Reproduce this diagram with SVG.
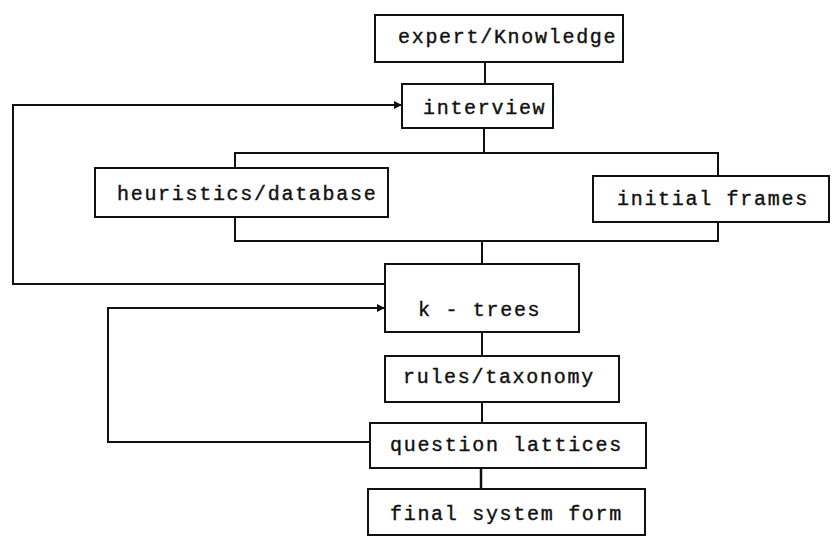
<svg xmlns="http://www.w3.org/2000/svg" width="833" height="540" viewBox="0 0 833 540">
  <style>
    .box { fill: #fff; stroke: #111; stroke-width: 2; }
    .lbl { font-family: "Liberation Mono", "DejaVu Sans Mono", monospace; font-size: 20px; letter-spacing: 1.7px; fill: #111; stroke: #111; stroke-width: 0.4px; }
    .wire { fill: none; stroke: #111; stroke-width: 2; }
  </style>
  <defs>
    <marker id="head" viewBox="0 0 10 10" refX="10" refY="5" markerWidth="8" markerHeight="8" orient="auto" markerUnits="userSpaceOnUse">
      <path d="M0,0 L10,5 L0,10 z" fill="#111"/>
    </marker>
  </defs>
  <rect width="833" height="540" fill="#fff"/>

  <g id="connectors">
    <!-- vertical trunk -->
    <line class="wire" x1="485" y1="62" x2="485" y2="84"/>
    <line class="wire" x1="484" y1="128" x2="484" y2="153"/>
    <!-- bracket joining the two parallel activities -->
    <path class="wire" d="M235,168 V153 H718 V176"/>
    <path class="wire" d="M235,217 V241 H718 V222"/>
    <line class="wire" x1="482" y1="241" x2="482" y2="264"/>
    <line class="wire" x1="482" y1="332" x2="482" y2="356"/>
    <line class="wire" x1="482" y1="402" x2="482" y2="423"/>
    <line class="wire" x1="481" y1="468" x2="481" y2="489" style="stroke-width:2.5"/>
    <!-- feedback loops -->
    <path class="wire" d="M386,284 H13 V105 H402" marker-end="url(#head)"/>
    <path class="wire" d="M370,442 H108 V308 H385" marker-end="url(#head)"/>
  </g>

  <g id="expert">
    <rect class="box" x="375" y="15" width="248" height="47"/>
    <text class="lbl" x="398" y="43">expert/Knowledge</text>
  </g>
  <g id="interview">
    <rect class="box" x="402" y="84" width="151" height="44"/>
    <text class="lbl" x="423" y="114">interview</text>
  </g>
  <g id="heuristics">
    <rect class="box" x="95" y="168" width="293" height="49"/>
    <text class="lbl" x="117" y="200">heuristics/database</text>
  </g>
  <g id="frames">
    <rect class="box" x="593" y="176" width="236" height="46"/>
    <text class="lbl" x="617" y="205">initial frames</text>
  </g>
  <g id="ktrees">
    <rect class="box" x="385" y="264" width="194" height="68"/>
    <text class="lbl" x="418" y="316">k - trees</text>
  </g>
  <g id="rules">
    <rect class="box" x="385" y="356" width="234" height="46"/>
    <text class="lbl" x="403" y="383">rules/taxonomy</text>
  </g>
  <g id="lattices">
    <rect class="box" x="370" y="423" width="276" height="45"/>
    <text class="lbl" x="390" y="451">question lattices</text>
  </g>
  <g id="final">
    <rect class="box" x="368" y="489" width="277" height="46"/>
    <text class="lbl" x="390" y="520">final system form</text>
  </g>
</svg>
